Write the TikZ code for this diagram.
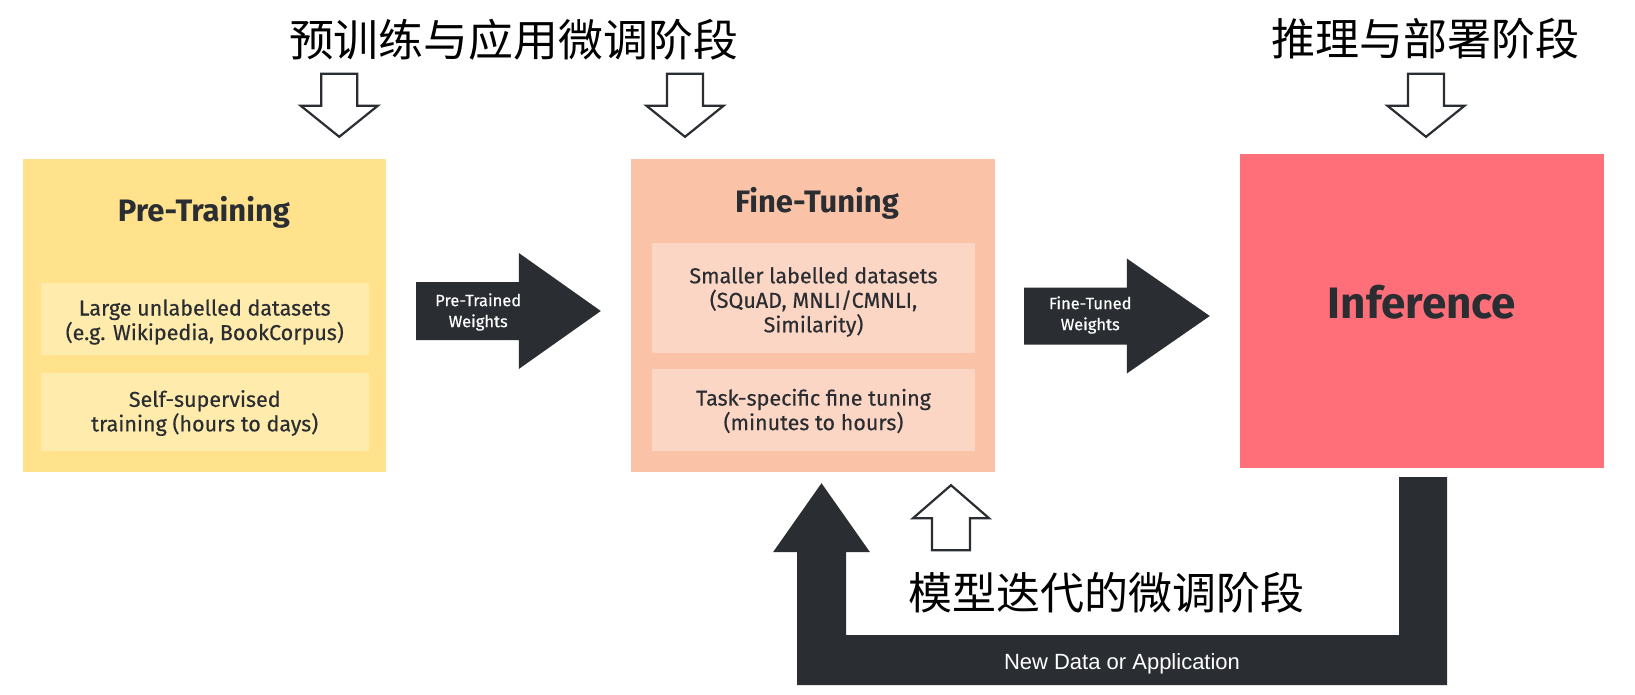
\documentclass[tikz,border=0pt]{standalone}
\usepackage{fontspec}
\newfontfamily\fira{Fira Sans}
\newfontfamily\firam[FakeBold=0.4]{Fira Sans}
\newfontfamily\arialf{Liberation Sans}
\newfontfamily\cjk{Noto Sans CJK SC}
\usetikzlibrary{calc}
\definecolor{ink}{HTML}{2A2D32}
\definecolor{yel}{HTML}{FFE28B}
\definecolor{yelin}{HTML}{FFEBAB}
\definecolor{pch}{HTML}{FAC3A8}
\definecolor{pchin}{HTML}{FCD6C4}
\definecolor{rd}{HTML}{FF6F7A}
\begin{document}
\begin{tikzpicture}[x=1pt,y=-1pt,
  stagebox/.style={rectangle, inner sep=0pt, draw=none},
  innerbox/.style={rectangle, inner sep=0pt, draw=none},
  boxtext/.style={align=center, text=ink, inner sep=0pt, font=\firam\fontsize{21.5}{24.5}\selectfont},
  boxtitle/.style={font=\fira\bfseries\fontsize{31}{36}\selectfont, text=ink, inner sep=0pt},
  cjktitle/.style={font=\cjk\fontsize{44}{50}\selectfont, text=black, inner sep=0pt},
  fat/.style={fill=ink, draw=none},
  hollow/.style={draw=ink, line width=2.2pt, fill=white, line join=miter},
  arrowlabel/.style={text=white, font=\firam\fontsize{16.5}{21}\selectfont, align=center, inner sep=0pt},
  hdown/.pic={\draw[hollow] (-18,-63) -- (18,-63) -- (18,-31) -- (38.5,-31) -- (0,0) -- (-38.5,-31) -- (-18,-31) -- cycle;},
  hup/.pic={\draw[hollow] (-19,65) -- (19,65) -- (19,33) -- (38,33) -- (0,0) -- (-38,33) -- (-19,33) -- cycle;}
]
\useasboundingbox[fill=white] (0,0) rectangle (1635,695);

% stage boxes
\node[stagebox, fill=yel, minimum width=363.5pt, minimum height=313pt] (pre) at (204.25,315.5) {};
\node[boxtitle, anchor=base] (pretitle) at (204,222) {Pre-Training};
\node[innerbox, fill=yelin, minimum width=327.5pt, minimum height=72pt] (pre1) at (204.75,319) {};
\node[boxtext] (pre1t) at ($(pre1)+(0,3)$) {Large unlabelled datasets\\(e.g. Wikipedia, BookCorpus)};
\node[innerbox, fill=yelin, minimum width=327.5pt, minimum height=78pt] (pre2) at (204.75,412) {};
\node[boxtext] (pre2t) at ($(pre2)+(0,1)$) {Self-supervised\\training (hours to days)};

\node[stagebox, fill=pch, minimum width=364pt, minimum height=313pt] (fine) at (813,315.5) {};
\node[boxtitle, anchor=base] (finetitle) at (817,213) {Fine-Tuning};
\node[innerbox, fill=pchin, minimum width=323pt, minimum height=110pt] (fine1) at (813.5,298) {};
\node[boxtext] (fine1t) at ($(fine1)+(0,4)$) {Smaller labelled datasets\\(SQuAD, MNLI/CMNLI,\\Similarity)};
\node[innerbox, fill=pchin, minimum width=323pt, minimum height=82pt] (fine2) at (813.5,410) {};
\node[boxtext] (fine2t) at ($(fine2)+(0,1)$) {Task-specific fine tuning\\(minutes to hours)};

\node[stagebox, fill=rd, minimum width=364pt, minimum height=314pt] (inf) at (1422,311) {};
\node[font=\fira\bfseries\fontsize{44}{50}\selectfont, text=ink, inner sep=0pt] (inftext) at (1422,302) {Inference};

% fat arrow 1
\coordinate (w1s) at ($(pre.east)+(30,-4.5)$);
\coordinate (w1e) at ($(fine.west)+(-30,-4.5)$);
\fill[fat] ($(w1s)+(0,-29)$) -- ($(w1e)+(-82,-29)$) -- ($(w1e)+(-82,-58)$) -- (w1e)
  -- ($(w1e)+(-82,58)$) -- ($(w1e)+(-82,29)$) -- ($(w1s)+(0,29)$) -- cycle;
\node[arrowlabel] (w1l) at ($(w1s)+(62,1)$) {Pre-Trained\\Weights};

% fat arrow 2
\coordinate (w2s) at ($(fine.east)+(29,0.5)$);
\coordinate (w2e) at ($(inf.west)+(-30,5)$);
\fill[fat] ($(w2s)+(0,-28.5)$) -- ($(w2e)+(-83,-28.5)$) -- ($(w2e)+(-83,-57.5)$) -- (w2e)
  -- ($(w2e)+(-83,57.5)$) -- ($(w2e)+(-83,28.5)$) -- ($(w2s)+(0,28.5)$) -- cycle;
\node[arrowlabel] (w2l) at ($(w2s)+(66,-1)$) {Fine-Tuned\\Weights};

% U arrow back
\coordinate (u1) at ($(inf.south)+(1,9)$);
\coordinate (u2) at ($(fine.south)+(8.5,11)$);
\fill[fat] ($(u1)+(24,0)$) |- ($(u2)+(-24.5,202)$) -- ($(u2)+(-24.5,69)$) -- ($(u2)+(-48.5,69)$)
  -- (u2) -- ($(u2)+(48.5,69)$) -- ($(u2)+(24.5,69)$) |- ($(u1)+(-24,158)$) -- ($(u1)+(-24,0)$) -- cycle;
\node[font=\arialf\fontsize{22}{24}\selectfont, text=white, inner sep=0pt] (ulabel) at (1122,664) {New Data or Application};

% stage titles
\node[cjktitle] (t1) at (513.5,40) {\scalebox{1.02}[1]{预训练与应用微调阶段}};
\node[cjktitle] (t2) at (1425,39) {推理与部署阶段};
\node[cjktitle] (t3) at (1106,593) {模型迭代的微调阶段};

% hollow arrows
\coordinate (h1) at ($(pre.north)+(135,-22)$);
\coordinate (h2) at ($(fine.north)+(-128,-22)$);
\coordinate (h3) at ($(inf.north)+(4,-17)$);
\coordinate (h4) at ($(fine.south)+(138,13)$);
\pic at (h1) {hdown};
\pic at (h2) {hdown};
\pic at (h3) {hdown};
\pic at (h4) {hup};
\end{tikzpicture}
\end{document}
